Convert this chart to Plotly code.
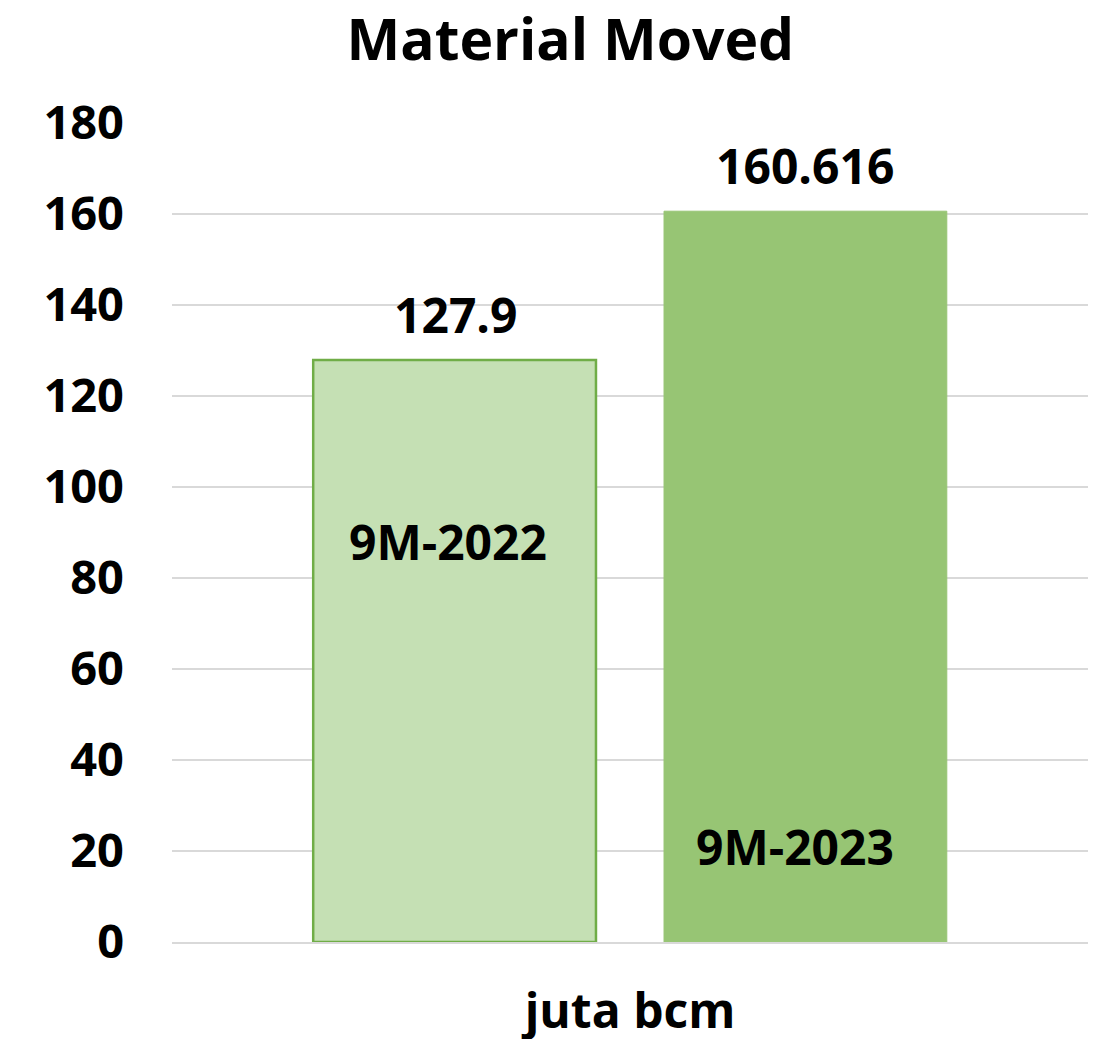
import plotly.graph_objects as go

# data
category = ["juta bcm"]
series_names = ["9M-2022", "9M-2023"]
values_2022 = [127.9]
values_2023 = [160.616]
value_labels_2022 = ["127.9"]
value_labels_2023 = ["160.616"]
y_ticks = [0, 20, 40, 60, 80, 100, 120, 140, 160, 180]

FONT = "Open Sans"
BOLD = dict(family=FONT, size=48, color="black", weight="bold")

fig = go.Figure()

fig.add_trace(go.Bar(
    x=category, y=values_2022, name=series_names[0],
    marker=dict(color="#C5E0B4", line=dict(color="#70AD47", width=2.5)),
))
fig.add_trace(go.Bar(
    x=category, y=values_2023, name=series_names[1],
    marker=dict(color="#97C574", line=dict(color="#97C574", width=1)),
))

# value labels above the bars
fig.add_annotation(x=category[0], y=values_2022[0], xref="x", yref="y",
                   xshift=-175, yanchor="bottom", yshift=11,
                   text=value_labels_2022[0], showarrow=False, font=BOLD)
fig.add_annotation(x=category[0], y=values_2023[0], xref="x", yref="y",
                   xshift=175, yanchor="bottom", yshift=11,
                   text=value_labels_2023[0], showarrow=False, font=BOLD)

# series names written inside the bars
fig.add_annotation(x=category[0], y=88, xref="x", yref="y", xshift=-182,
                   text=series_names[0], showarrow=False, font=BOLD)
fig.add_annotation(x=category[0], y=21, xref="x", yref="y", xshift=165,
                   text=series_names[1], showarrow=False, font=BOLD)

fig.update_layout(
    width=1107, height=1039,
    paper_bgcolor="white", plot_bgcolor="white",
    showlegend=False,
    barmode="group", bargap=0.234, bargroupgap=0.194,
    margin=dict(l=164, r=27, t=115, b=105),
    title=dict(text="Material Moved", x=0.508, xanchor="center",
               y=0.969, yanchor="middle",
               font=dict(family=FONT, size=57, color="black", weight="bold")),
    font=dict(family=FONT, color="black"),
)
fig.update_yaxes(range=[0, 180], tickvals=y_ticks, automargin=False,
                 showgrid=True, gridcolor="#D9D9D9", gridwidth=2,
                 zeroline=False, showline=False,
                 tickfont=dict(family=FONT, size=47, color="black", weight="bold"),
                 ticklabelstandoff=47)
fig.update_xaxes(showline=True, linecolor="#D9D9D9", linewidth=2,
                 automargin=False,
                 tickfont=BOLD, ticklabelstandoff=26)

fig.write_html("out.html")
